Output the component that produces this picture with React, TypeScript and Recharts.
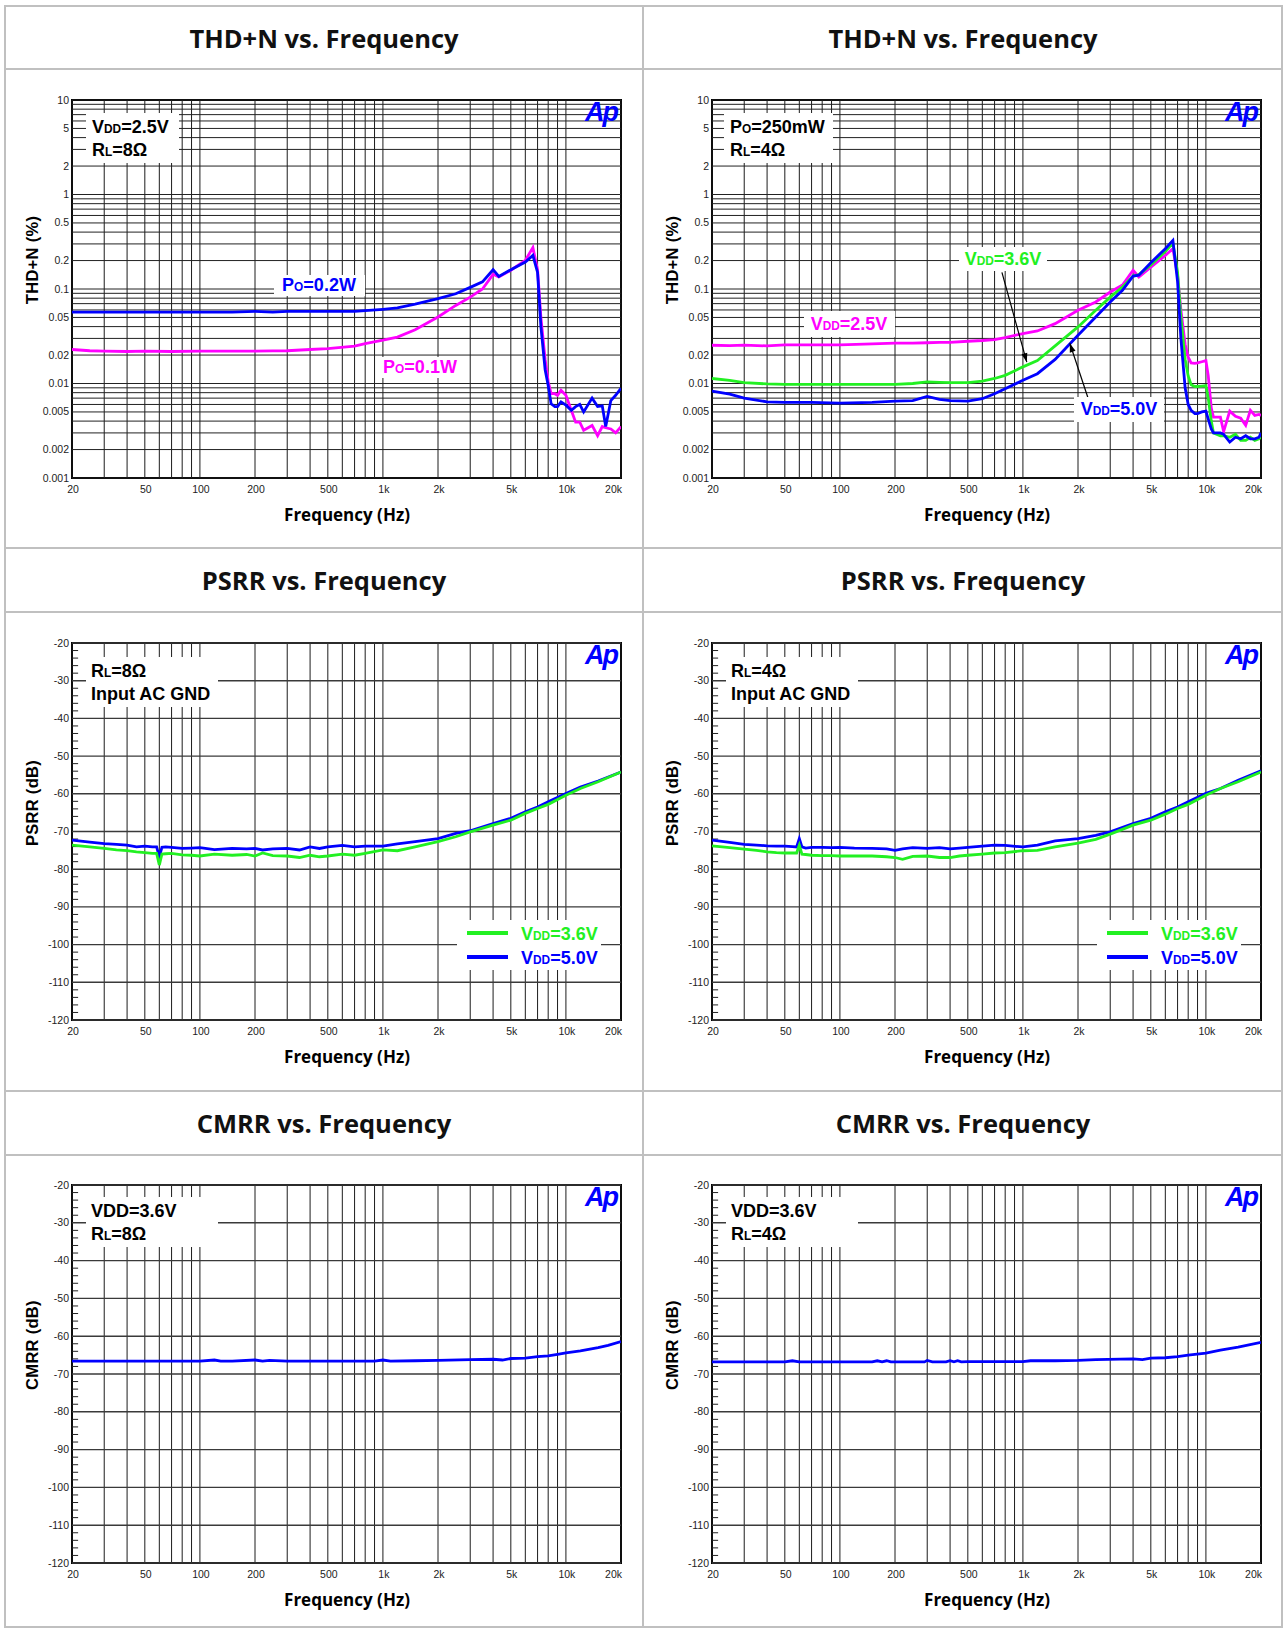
import React from 'react'
import { LineChart, Line, XAxis, YAxis, ReferenceLine, ReferenceArea } from 'recharts'

// ---------- THD+N, RL = 8 ohm, VDD = 2.5V ----------
const thd8Freq = [20, 25, 30, 40, 50, 70, 100, 150, 200, 250, 300, 400, 500, 700, 800, 1000, 1200, 1500, 2000, 2500, 3000, 3500, 4000, 4300, 5000, 6000, 6600, 7000, 7300, 7700, 8000, 8300, 8700, 9000, 9400, 10000, 10700, 11300, 11900, 12500, 13900, 14900, 15800, 16500, 17600, 18700, 20000]
const thd8Po02 = [0.057, 0.057, 0.057, 0.057, 0.057, 0.057, 0.057, 0.057, 0.058, 0.057, 0.058, 0.058, 0.058, 0.058, 0.059, 0.061, 0.063, 0.069, 0.079, 0.089, 0.104, 0.119, 0.16, 0.136, 0.16, 0.193, 0.227, 0.15, 0.04, 0.014, 0.0095, 0.0061, 0.0057, 0.0057, 0.0064, 0.0059, 0.0052, 0.0057, 0.006, 0.005, 0.007, 0.0057, 0.0058, 0.0035, 0.0066, 0.0075, 0.0089]
const thd8Po01 = [0.0229, 0.0222, 0.022, 0.0218, 0.022, 0.0218, 0.022, 0.022, 0.022, 0.0221, 0.0222, 0.0229, 0.0234, 0.0248, 0.0264, 0.0287, 0.031, 0.037, 0.0506, 0.067, 0.082, 0.1, 0.143, 0.134, 0.158, 0.201, 0.274, 0.16, 0.05, 0.018, 0.0105, 0.0078, 0.0078, 0.0075, 0.0085, 0.0075, 0.0052, 0.0039, 0.0039, 0.0032, 0.0036, 0.0028, 0.0035, 0.0034, 0.0033, 0.003, 0.0035]

// ---------- THD+N, RL = 4 ohm, PO = 250mW ----------
const thd4Freq = [20, 25, 30, 40, 50, 70, 100, 150, 200, 250, 300, 350, 400, 500, 600, 700, 800, 1000, 1200, 1500, 2000, 2500, 3000, 3500, 4000, 4300, 5000, 6000, 6600, 7000, 7300, 7700, 8000, 8300, 8700, 9000, 9500, 10000, 10300, 10700, 11000, 12000, 12500, 13500, 14500, 15500, 16500, 17500, 18500, 19500, 20000]
const thd4Vdd25 = [0.0254, 0.0252, 0.0255, 0.025, 0.0256, 0.0256, 0.0256, 0.0262, 0.0268, 0.0268, 0.027, 0.0272, 0.0272, 0.028, 0.0285, 0.0292, 0.0305, 0.0338, 0.036, 0.043, 0.0596, 0.073, 0.093, 0.11, 0.158, 0.134, 0.17, 0.227, 0.267, 0.14, 0.06, 0.026, 0.019, 0.0165, 0.0163, 0.0165, 0.017, 0.0175, 0.012, 0.0055, 0.0044, 0.0044, 0.0031, 0.0051, 0.0045, 0.0043, 0.0036, 0.0052, 0.0046, 0.0047, 0.0046]
const thd4Vdd36 = [0.0113, 0.0108, 0.0102, 0.0099, 0.0098, 0.0098, 0.0098, 0.0098, 0.0098, 0.01, 0.0104, 0.0103, 0.0102, 0.0102, 0.0106, 0.0113, 0.0122, 0.015, 0.0175, 0.025, 0.0397, 0.0596, 0.082, 0.105, 0.137, 0.142, 0.18, 0.25, 0.306, 0.15, 0.05, 0.018, 0.012, 0.0097, 0.0093, 0.0093, 0.0094, 0.0095, 0.007, 0.004, 0.003, 0.0028, 0.0028, 0.0027, 0.0029, 0.0025, 0.0025, 0.0027, 0.0025, 0.0026, 0.0027]
const thd4Vdd50 = [0.0083, 0.0077, 0.007, 0.0064, 0.0063, 0.0063, 0.0062, 0.0063, 0.0065, 0.0066, 0.0073, 0.0068, 0.0066, 0.0065, 0.0069, 0.0078, 0.0088, 0.0108, 0.0127, 0.018, 0.0324, 0.0506, 0.073, 0.097, 0.137, 0.14, 0.19, 0.267, 0.327, 0.12, 0.03, 0.009, 0.006, 0.0052, 0.0048, 0.0048, 0.005, 0.0051, 0.0042, 0.0033, 0.003, 0.003, 0.0029, 0.0024, 0.0027, 0.0026, 0.0028, 0.0026, 0.0026, 0.0027, 0.003]

// ---------- PSRR ----------
const psrrFreq = [20, 25, 30, 35, 40, 45, 50, 55, 58, 60, 62, 65, 70, 80, 90, 100, 120, 150, 180, 200, 220, 250, 300, 350, 400, 450, 500, 600, 700, 800, 1000, 1200, 1500, 2000, 2500, 3000, 4000, 5000, 6000, 7000, 8000, 10000, 12000, 15000, 20000]
const psrr8Vdd50 = [-72.3, -72.8, -73.2, -73.4, -73.6, -74.1, -73.9, -74.1, -74.1, -76.7, -74.2, -74.1, -74.2, -74.5, -74.4, -74.3, -74.8, -74.5, -74.6, -74.5, -74.9, -74.6, -74.5, -74.9, -74.1, -74.5, -74.1, -73.7, -74.1, -73.9, -73.9, -73.3, -72.7, -71.9, -70.5, -69.8, -67.9, -66.5, -64.8, -63.5, -62.1, -59.9, -58.2, -56.6, -54.2]
const psrr8Vdd36 = [-73.6, -74.1, -74.5, -74.9, -75.1, -75.4, -75.6, -75.8, -75.8, -78.9, -76, -75.9, -75.8, -76.2, -76.3, -76.5, -76, -76.3, -76.1, -76.5, -75.7, -76.4, -76.5, -76.9, -76.3, -76.7, -76.5, -76, -76.3, -75.8, -74.9, -75.1, -74.1, -72.7, -71.4, -70.1, -68.3, -67, -65.2, -63.9, -62.8, -60.4, -58.6, -56.8, -54.2]
const psrr4Vdd50 = [-72.3, -72.9, -73.4, -73.6, -73.8, -73.9, -73.9, -74, -74.1, -71.9, -74.1, -74.4, -74.2, -74.2, -74.3, -74.2, -74.4, -74.5, -74.6, -75, -74.6, -74.3, -74.5, -74.3, -74.6, -74.4, -74.2, -73.9, -73.6, -73.7, -74.1, -73.6, -72.5, -71.9, -71, -70.1, -67.9, -66.5, -64.8, -63.5, -62.1, -59.9, -58.6, -56.4, -53.9]
const psrr4Vdd36 = [-73.8, -74.3, -74.7, -75, -75.4, -75.6, -75.7, -75.7, -75.7, -73.6, -76, -76.1, -76.3, -76.4, -76.4, -76.5, -76.5, -76.5, -76.7, -76.9, -77.4, -76.6, -76.5, -76.9, -76.9, -76.5, -76.3, -76, -75.7, -75.6, -75.1, -75, -74.1, -73.1, -72.1, -70.7, -68.3, -67, -65.4, -63.9, -62.8, -60.4, -58.6, -56.8, -54.2]

// ---------- CMRR ----------
const cmrr8Freq = [20, 50, 100, 120, 130, 150, 200, 220, 240, 300, 500, 900, 1000, 1100, 1500, 2000, 3000, 4000, 4500, 5000, 6000, 7000, 8000, 9000, 10000, 12000, 15000, 17000, 20000]
const cmrr8 = [-66.6, -66.6, -66.6, -66.3, -66.6, -66.6, -66.3, -66.6, -66.4, -66.6, -66.6, -66.6, -66.3, -66.6, -66.5, -66.4, -66.2, -66.1, -66.3, -65.9, -65.8, -65.4, -65.2, -64.8, -64.4, -63.9, -63, -62.4, -61.4]
const cmrr4Freq = [20, 50, 55, 60, 100, 150, 160, 170, 180, 190, 290, 300, 320, 380, 400, 420, 440, 460, 500, 1000, 1100, 1500, 2000, 2500, 4000, 4500, 5000, 6000, 7000, 8000, 10000, 12000, 15000, 20000]
const cmrr4 = [-66.8, -66.8, -66.5, -66.8, -66.8, -66.8, -66.5, -66.8, -66.5, -66.8, -66.8, -66.4, -66.8, -66.8, -66.5, -66.8, -66.5, -66.8, -66.7, -66.7, -66.5, -66.5, -66.4, -66.2, -66, -66.2, -65.8, -65.7, -65.4, -65, -64.5, -63.7, -62.9, -61.6]

// ---------- axes ----------
const freqTicks = [20, 50, 100, 200, 500, 1000, 2000, 5000, 10000, 20000]
const freqTickLabels = ['20', '50', '100', '200', '500', '1k', '2k', '5k', '10k', '20k']
const thdTicks = [0.001, 0.002, 0.005, 0.01, 0.02, 0.05, 0.1, 0.2, 0.5, 1, 2, 5, 10]
const thdTickLabels = ['0.001', '0.002', '0.005', '0.01', '0.02', '0.05', '0.1', '0.2', '0.5', '1', '2', '5', '10']
const dbTicks = [-120, -110, -100, -90, -80, -70, -60, -50, -40, -30, -20]

const BLUE = '#0000ff'
const MAGENTA = '#ff00ff'
const GREEN = '#22f022'
const TICK_FONT = '"Liberation Sans", Arial, sans-serif'
const HEAD_FONT = '"Open Sans", "Liberation Sans", Arial, sans-serif'

// grid at 1..9 of every decade
const mults = [1, 2, 3, 4, 5, 6, 7, 8, 9]
const gridFreqs = [10, 100, 1000, 10000].flatMap(d => mults.map(m => m * d)).filter(f => f >= 20 && f <= 20000)
const thdGrid = [0.001, 0.01, 0.1, 1].flatMap(d => mults.map(m => +(m * d).toPrecision(3))).concat([10])
const dbMinor = [-118, -116, -114, -112, -108, -106, -104, -102, -98, -96, -94, -92, -88, -86, -84, -82, -78, -76, -74, -72, -68, -66, -64, -62, -58, -56, -54, -52, -48, -46, -44, -42, -38, -36, -34, -32, -28, -26, -24, -22]

const zip = (f: number[], v: number[]) => f.map((x, i) => ({ f: x, v: v[i] }))

const FreqTick = (p: any) => {
  const v = p.payload.value
  const i = freqTicks.indexOf(v)
  const last = v === 20000
  return (
    <text x={p.x + 1} y={p.y} dy="0.71em" textAnchor={last ? 'end' : 'middle'}
      fontSize={10.5} fill="#222" fontFamily={TICK_FONT}>{freqTickLabels[i]}</text>
  )
}

const ThdTick = (p: any) => {
  const i = thdTicks.indexOf(p.payload.value)
  return <text x={p.x} y={p.y} dy={3.5} textAnchor="end" fontSize={10.5} fill="#222" fontFamily={TICK_FONT}>{thdTickLabels[i]}</text>
}

const DbTick = (p: any) => (
  <text x={p.x} y={p.y} dy={3.5} textAnchor="end" fontSize={10.5} fill="#222" fontFamily={TICK_FONT}>{p.payload.value}</text>
)

const ArrowLine = (p: any) => {
  const { x1, y1, x2, y2 } = p
  const a = Math.atan2(y2 - y1, x2 - x1)
  const bx = x2 - 9 * Math.cos(a)
  const by = y2 - 9 * Math.sin(a)
  const pts = `${x2},${y2} ${bx - 3 * Math.sin(a)},${by + 3 * Math.cos(a)} ${bx + 3 * Math.sin(a)},${by - 3 * Math.cos(a)}`
  return (
    <g>
      <line x1={x1} y1={y1} x2={x2} y2={y2} stroke="#000" strokeWidth={1.2} />
      <polygon points={pts} fill="#000" />
    </g>
  )
}

type Series = { name: string; freq: number[]; vals: number[]; color: string }

function Plot({ x0, top, h, kind, series, extra }: { x0: number; top: number; h: number; kind: 'thd' | 'db'; series: Series[]; extra?: React.ReactNode }) {
  const isThd = kind === 'thd'
  const yDomain = isThd ? [0.001, 10] : [-120, -20]
  return (
    <div style={{ position: 'absolute', left: x0, top: top - 30 }}>
      <LineChart width={644} height={h + 100} margin={{ top: 30, right: 23, bottom: 40, left: 22 }}>
        <XAxis dataKey="f" type="number" scale="log" domain={[20, 20000]} allowDataOverflow ticks={freqTicks}
          interval={0} tick={<FreqTick />} tickLine={false} axisLine={false} tickSize={0} tickMargin={8} height={30} />
        <YAxis type="number" scale={isThd ? 'log' : 'linear'} domain={yDomain} allowDataOverflow
          ticks={isThd ? thdTicks : dbTicks} interval={0} tick={isThd ? <ThdTick /> : <DbTick />}
          tickLine={false} axisLine={false} tickSize={0} tickMargin={3} width={50} />
        {gridFreqs.map(f => (
          <ReferenceLine key={'v' + f} x={f} stroke="#1c1c1c" strokeWidth={1} />
        ))}
        {isThd
          ? thdGrid.map(v => <ReferenceLine key={'h' + v} y={v} stroke="#222" strokeWidth={1} />)
          : dbTicks.map(v => <ReferenceLine key={'h' + v} y={v} stroke="#3a3a3a" strokeWidth={1.4} />)}
        {!isThd && dbMinor.map(v => (
          <ReferenceLine key={'m' + v} segment={[{ x: 20, y: v }, { x: 21.6, y: v }]} stroke="#222" strokeWidth={1} />
        ))}
        {series.map(s => (
          <Line key={s.name} name={s.name} data={zip(s.freq, s.vals)} dataKey="v" type="linear"
            stroke={s.color} strokeWidth={2.8} dot={false} activeDot={false} isAnimationActive={false} />
        ))}
        <ReferenceArea x1={20} x2={20000} y1={yDomain[0]} y2={yDomain[1]} fill="none" stroke="#000" strokeWidth={2} />
        {extra}
      </LineChart>
    </div>
  )
}

const Sub = ({ children }: { children: React.ReactNode }) => <span style={{ fontSize: '0.66em' }}>{children}</span>

const annoFont: React.CSSProperties = { fontFamily: '"Liberation Sans", Arial, sans-serif', fontWeight: 700, fontSize: 18, whiteSpace: 'nowrap', position: 'absolute', lineHeight: 1 }

function InfoBox({ left, top, w, tx, l1, l2 }: { left: number; top: number; w: number; tx: number; l1: React.ReactNode; l2: React.ReactNode }) {
  return (
    <>
      <div style={{ position: 'absolute', left, top, width: w, height: 50, background: '#fff' }} />
      <div style={{ ...annoFont, left: tx, top: top + 5 }}>{l1}</div>
      <div style={{ ...annoFont, left: tx, top: top + 28 }}>{l2}</div>
    </>
  )
}

function Tag({ cx, cy, w, h, color, children }: { cx: number; cy: number; w: number; h: number; color: string; children: React.ReactNode }) {
  return (
    <div style={{ position: 'absolute', left: cx - w / 2, top: cy - h / 2, width: w, height: h, background: '#fff', display: 'flex', alignItems: 'center', justifyContent: 'center' }}>
      <span style={{ ...annoFont, position: 'static', color }}>{children}</span>
    </div>
  )
}

function Legend({ x0 }: { x0: number }) {
  return (
    <>
      <div style={{ position: 'absolute', left: x0 + 457, top: 920, width: 144, height: 50, background: '#fff' }} />
      <div style={{ position: 'absolute', left: x0 + 467, top: 931, width: 41, height: 4, background: GREEN }} />
      <div style={{ position: 'absolute', left: x0 + 467, top: 955, width: 41, height: 4, background: BLUE }} />
      <div style={{ ...annoFont, left: x0 + 521, top: 925, color: GREEN }}>V<Sub>DD</Sub>=3.6V</div>
      <div style={{ ...annoFont, left: x0 + 521, top: 949, color: BLUE }}>V<Sub>DD</Sub>=5.0V</div>
    </>
  )
}

const Logo = ({ x0, top }: { x0: number; top: number }) => (
  <div style={{ position: 'absolute', left: x0 + 585, top: top - 1, fontFamily: '"Liberation Sans", Arial, sans-serif', fontWeight: 700, fontStyle: 'italic', fontSize: 27, letterSpacing: -2, color: BLUE, lineHeight: 1 }}>Ap</div>
)

const YTitle = ({ x0, top, text }: { x0: number; top: number; text: string }) => (
  <div style={{ position: 'absolute', left: x0 + 32, top: top + 160, transform: 'translate(-50%, -50%) rotate(-90deg)', fontFamily: TICK_FONT, fontWeight: 700, fontSize: 16.5, whiteSpace: 'nowrap', letterSpacing: 0.3 }}>{text}</div>
)

const XTitle = ({ x0, bottom }: { x0: number; bottom: number }) => (
  <div style={{ position: 'absolute', left: x0 + 347, top: bottom + 36, transform: 'translate(-50%, -50%)', fontFamily: HEAD_FONT, fontWeight: 700, fontSize: 17, whiteSpace: 'nowrap' }}>Frequency (Hz)</div>
)

const Title = ({ cx, cy, text }: { cx: number; cy: number; text: string }) => (
  <div style={{ position: 'absolute', left: cx, top: cy, transform: 'translate(-50%, -50%)', fontFamily: HEAD_FONT, fontWeight: 700, fontSize: 25.5, whiteSpace: 'nowrap', color: '#111' }}>{text}</div>
)

const LINE = '#c0c0c0'
const hLine = (y: number) => <div key={'hl' + y} style={{ position: 'absolute', left: 4, top: y - 1, width: 1279, height: 2, background: LINE }} />

export default function App() {
  const rows = [
    { title: 'THD+N vs. Frequency', ty: 37.5, top: 100, h: 378 },
    { title: 'PSRR vs. Frequency', ty: 580, top: 643, h: 377 },
    { title: 'CMRR vs. Frequency', ty: 1123, top: 1185, h: 378 },
  ]
  return (
    <div style={{ position: 'relative', width: 1284, height: 1630, background: '#fff', overflow: 'hidden', fontFamily: TICK_FONT }}>
      <style>{'body{margin:0}'}</style>
      {/* table frame */}
      {[6, 69, 548, 612, 1091, 1155, 1627].map(hLine)}
      <div style={{ position: 'absolute', left: 4, top: 5, width: 2, height: 1623, background: LINE }} />
      <div style={{ position: 'absolute', left: 642, top: 5, width: 2, height: 1623, background: LINE }} />
      <div style={{ position: 'absolute', left: 1281, top: 5, width: 2, height: 1623, background: LINE }} />

      {rows.map(r => (
        <React.Fragment key={r.title}>
          <Title cx={324} cy={r.ty} text={r.title} />
          <Title cx={963} cy={r.ty} text={r.title} />
        </React.Fragment>
      ))}

      {/* THD+N */}
      <Plot x0={0} top={100} h={378} kind="thd" series={[
        { name: 'PO=0.1W', freq: thd8Freq, vals: thd8Po01, color: MAGENTA },
        { name: 'PO=0.2W', freq: thd8Freq, vals: thd8Po02, color: BLUE },
      ]} />
      <Plot x0={640} top={100} h={378} kind="thd" series={[
        { name: 'VDD=2.5V', freq: thd4Freq, vals: thd4Vdd25, color: MAGENTA },
        { name: 'VDD=3.6V', freq: thd4Freq, vals: thd4Vdd36, color: GREEN },
        { name: 'VDD=5.0V', freq: thd4Freq, vals: thd4Vdd50, color: BLUE },
      ]} extra={[
        <ReferenceLine key="a1" segment={[{ x: 768, y: 0.15 }, { x: 1050, y: 0.0168 }]} shape={(p: any) => <ArrowLine {...p} />} />,
        <ReferenceLine key="a2" segment={[{ x: 2262, y: 0.00716 }, { x: 1804, y: 0.0267 }]} shape={(p: any) => <ArrowLine {...p} />} />,
      ]} />

      {/* PSRR */}
      <Plot x0={0} top={643} h={377} kind="db" series={[
        { name: 'VDD=5.0V', freq: psrrFreq, vals: psrr8Vdd50, color: BLUE },
        { name: 'VDD=3.6V', freq: psrrFreq, vals: psrr8Vdd36, color: GREEN },
      ]} />
      <Plot x0={640} top={643} h={377} kind="db" series={[
        { name: 'VDD=5.0V', freq: psrrFreq, vals: psrr4Vdd50, color: BLUE },
        { name: 'VDD=3.6V', freq: psrrFreq, vals: psrr4Vdd36, color: GREEN },
      ]} />

      {/* CMRR */}
      <Plot x0={0} top={1185} h={378} kind="db" series={[{ name: 'CMRR', freq: cmrr8Freq, vals: cmrr8, color: BLUE }]} />
      <Plot x0={640} top={1185} h={378} kind="db" series={[{ name: 'CMRR', freq: cmrr4Freq, vals: cmrr4, color: BLUE }]} />

      {/* axis titles & logos */}
      {rows.map((r, i) => (
        <React.Fragment key={'ax' + i}>
          {[0, 640].map(x0 => (
            <React.Fragment key={x0}>
              <YTitle x0={x0} top={r.top} text={i === 0 ? 'THD+N (%)' : i === 1 ? 'PSRR (dB)' : 'CMRR (dB)'} />
              <XTitle x0={x0} bottom={r.top + r.h} />
              <Logo x0={x0} top={r.top} />
            </React.Fragment>
          ))}
        </React.Fragment>
      ))}

      {/* annotations */}
      <InfoBox left={86} top={113} w={93} tx={92} l1={<>V<Sub>DD</Sub>=2.5V</>} l2={<>R<Sub>L</Sub>=8Ω</>} />
      <InfoBox left={724} top={113} w={109} tx={730} l1={<>P<Sub>O</Sub>=250mW</>} l2={<>R<Sub>L</Sub>=4Ω</>} />
      <InfoBox left={86} top={657} w={132} tx={91} l1={<>R<Sub>L</Sub>=8Ω</>} l2={<>Input AC GND</>} />
      <InfoBox left={726} top={657} w={132} tx={731} l1={<>R<Sub>L</Sub>=4Ω</>} l2={<>Input AC GND</>} />
      <InfoBox left={86} top={1197} w={132} tx={91} l1={<>VDD=3.6V</>} l2={<>R<Sub>L</Sub>=8Ω</>} />
      <InfoBox left={726} top={1197} w={132} tx={731} l1={<>VDD=3.6V</>} l2={<>R<Sub>L</Sub>=4Ω</>} />

      <Tag cx={319} cy={285} w={91} h={21} color={BLUE}>P<Sub>O</Sub>=0.2W</Tag>
      <Tag cx={420} cy={367} w={82} h={21} color={MAGENTA}>P<Sub>O</Sub>=0.1W</Tag>
      <Tag cx={849} cy={324} w={91} h={26} color={MAGENTA}>V<Sub>DD</Sub>=2.5V</Tag>
      <Tag cx={1003} cy={259} w={88} h={24} color={GREEN}>V<Sub>DD</Sub>=3.6V</Tag>
      <Tag cx={1119} cy={409} w={90} h={25} color={BLUE}>V<Sub>DD</Sub>=5.0V</Tag>

      <Legend x0={0} />
      <Legend x0={640} />
    </div>
  )
}
